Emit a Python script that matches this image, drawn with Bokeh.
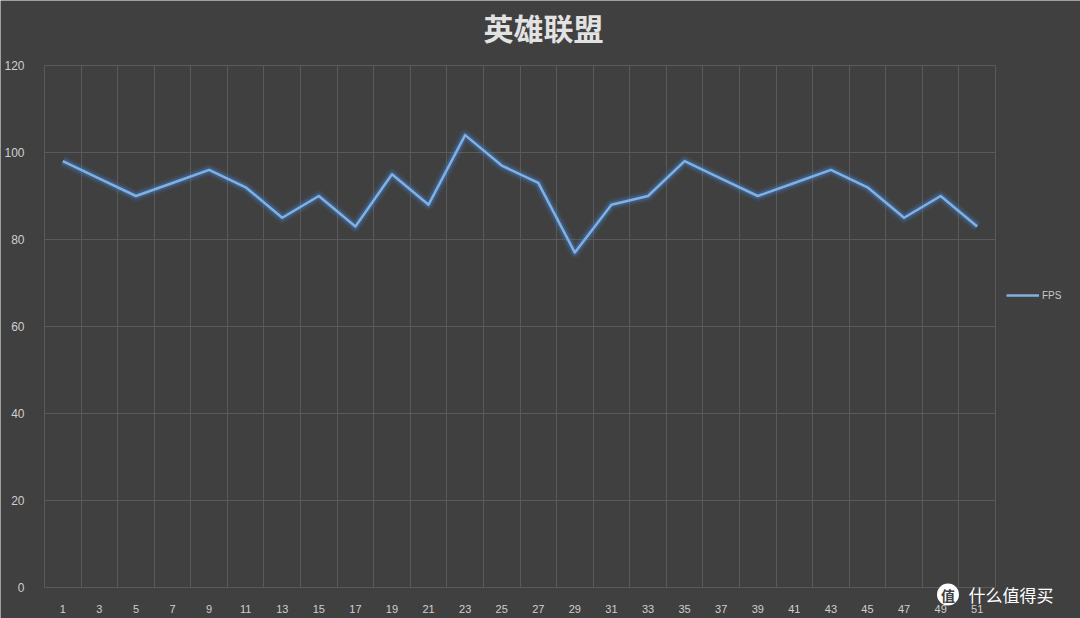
from bokeh.plotting import figure
from bokeh.models import FixedTicker, Label, Legend, LegendItem
from bokeh.embed import file_html
from bokeh.resources import INLINE

title_text = "英雄联盟"
series_name = "FPS"
x_cats = list(range(1, 52, 2))
fps = [98, 94, 90, 93, 96, 92, 85, 90, 83, 95, 88, 104, 97, 93, 77,
       88, 90, 98, 94, 90, 93, 96, 92, 85, 90, 83]
y_ticks = [0, 20, 40, 60, 80, 100, 120]
x_grid = list(range(0, 53, 2))

BG = "#404040"
W, H = 1080, 618
# plot area (pixels): left 44, right 995, top 65, bottom 587
sx = (995 - 44) / 52.0
sy = (587 - 65) / 120.0
x_range = (-44 / sx, 52 + (W - 995) / sx)
y_range = (-(H - 587) / sy, 120 + 65 / sy)

p = figure(width=W, height=H, x_range=x_range, y_range=y_range,
           output_backend="svg", toolbar_location=None,
           min_border=0, min_border_left=0, min_border_right=0,
           min_border_top=0, min_border_bottom=0)
p.background_fill_color = BG
p.border_fill_color = BG
p.outline_line_color = None

for ax in (p.xaxis[0], p.yaxis[0]):
    ax.axis_line_color = None
    ax.major_tick_line_color = None
    ax.minor_tick_line_color = None
    ax.major_label_text_color = "#cfcfcf"
    ax.major_label_text_font = "Liberation Sans"
    ax.fixed_location = 0
p.xaxis.ticker = FixedTicker(ticks=x_cats)
p.xaxis.major_label_standoff = 11
p.xaxis.major_label_text_font_size = "11px"
p.yaxis.ticker = FixedTicker(ticks=y_ticks)
p.yaxis.major_label_standoff = 14
p.yaxis.major_label_text_font_size = "12px"

p.xgrid.ticker = FixedTicker(ticks=x_grid)
p.xgrid.cross_bounds = (0, 120)
p.ygrid.ticker = FixedTicker(ticks=y_ticks)
p.ygrid.cross_bounds = (0, 52)
p.xgrid.grid_line_color = "#5a5a5a"
p.ygrid.grid_line_color = "#5a5a5a"

glow = "#3f86d6"
p.line(x_cats, fps, line_color=glow, line_width=11, line_alpha=0.12, line_join="round")
p.line(x_cats, fps, line_color=glow, line_width=6.5, line_alpha=0.3, line_join="round")
main = p.line(x_cats, fps, line_color="#80b0e4", line_width=2.5, line_join="round")

legend = Legend(items=[LegendItem(label=series_name, renderers=[main])],
                location=(1006, 316), background_fill_alpha=0, border_line_color=None,
                label_text_color="#c8c8c8", label_text_font_size="10px",
                label_text_font="Liberation Sans", glyph_width=33, glyph_height=14,
                label_standoff=3, padding=0, margin=0, label_height=14)
p.add_layout(legend, "center")

p.add_layout(Label(x=(543 - 44) / sx, y=(587 - 26) / sy, text=title_text,
                   text_align="center", text_baseline="middle",
                   text_font="Noto Sans CJK SC", text_font_size="30px", text_font_style="bold",
                   text_color="#e2e2e2"))

# watermark
wm_x = (947.5 - 44) / sx
wm_y = (587 - 594) / sy
p.scatter([wm_x], [wm_y], size=22, marker="circle", fill_color="white", line_color=None)
p.add_layout(Label(x=wm_x, y=wm_y, text="值", text_align="center", text_baseline="middle",
                   text_font="Noto Sans CJK SC", text_font_size="14px", text_color="#404040",
                   text_font_style="bold"))
p.add_layout(Label(x=(968 - 44) / sx, y=wm_y, text="什么值得买", text_align="left",
                   text_baseline="middle",
                   text_font="Noto Sans CJK SC", text_font_size="17px", text_color="white"))

html = file_html(p, INLINE)
html = html.replace("<body>", '<body style="background:%s">' % BG, 1)
open("out.html", "w").write(html)
